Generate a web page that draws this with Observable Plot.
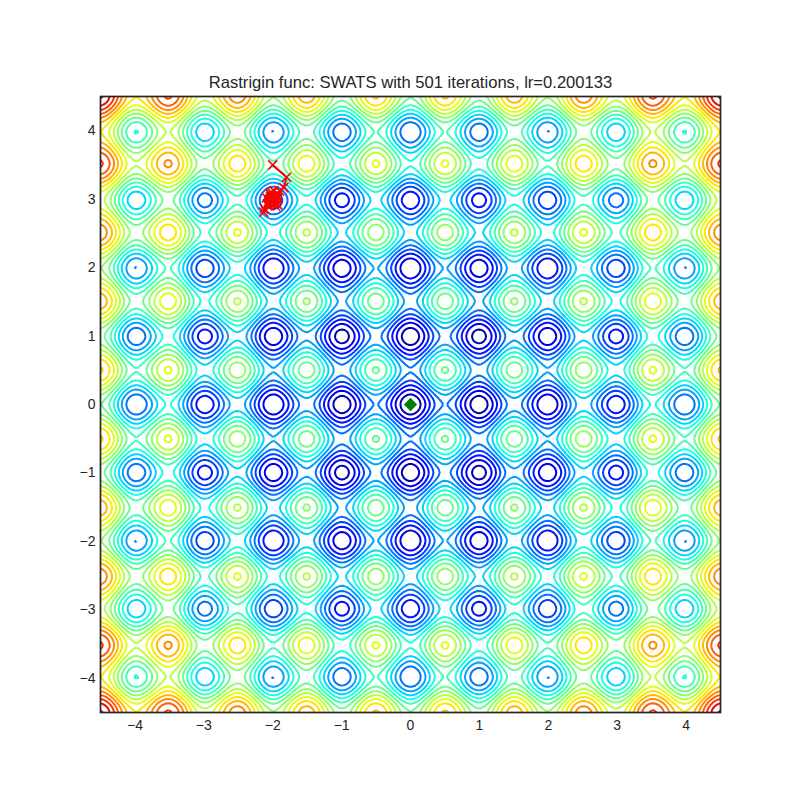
<!DOCTYPE html>
<html>
<head>
<meta charset="utf-8">
<script src="https://cdn.jsdelivr.net/npm/d3@7"></script>
<script src="https://cdn.jsdelivr.net/npm/@observablehq/plot@0.6"></script>
<style>html,body{margin:0;padding:0;background:#fff}</style>
</head>
<body>
<div id="chart"></div>
<script>
const titleText = "Rastrigin func: SWATS with 501 iterations, lr=0.200133";
const tickValues = [-4, -3, -2, -1, 0, 1, 2, 3, 4];
const contourLevels = [4,8,12,16,20,24,28,32,36,40,44,48,52,56,60,64,68,72,76,80];
const colorMax = 84;
const gridSamples = 250;
const jetStops = [0, 0.11, 0.125, 0.34, 0.35, 0.375, 0.64, 0.65, 0.66, 0.89, 0.91, 1];
const jetColors = ["rgb(0,0,127)","rgb(0,0,255)","rgb(0,0,255)","rgb(0,219,255)","rgb(0,230,247)","rgb(21,255,226)","rgb(239,255,8)","rgb(247,246,0)","rgb(255,236,0)","rgb(255,19,0)","rgb(232,0,0)","rgb(127,0,0)"];
// Path: start, approach, then the cluster around the local minimum.
const pathX = [-2.00,-1.80,-1.84,-1.90,-1.93,-1.98,-2.08,-2.12,-2.13,-2.05,-1.93,-1.92,-2.02,-2.09,-2.06,-1.96,-1.95,-2.04,-2.06,-1.98,-1.94,-2.03,-2.05,-1.97,-2.00,-2.02,-1.98,-2.01,-2.04,-1.97,-1.99,-2.02,-2.00];
const pathY = [ 3.50, 3.32, 3.17, 3.12, 3.05, 3.12, 2.93, 2.86, 2.81, 2.90, 2.92, 3.02, 3.10, 3.02, 2.92, 2.90, 3.06, 3.08, 2.96, 2.93, 3.00, 3.04, 2.97, 2.95, 3.00, 3.03, 3.02, 2.97, 3.00, 2.98, 3.04, 2.96, 3.00];
const optimumX = [0];
const optimumY = [0];
const lastX = [-1.99];
const lastY = [2.98];
// The contoured surface is the function named in the title, on the axes' domain.
const rastrigin = (x, y) => 20 + x*x - 10*Math.cos(2*Math.PI*x) + y*y - 10*Math.cos(2*Math.PI*y);
const path = pathX.map((x, i) => ({x, y: pathY[i]}));
const optimum = optimumX.map((x, i) => ({x, y: optimumY[i]}));
const last = lastX.map((x, i) => ({x, y: lastY[i]}));
const tickFmt = d3.format("d");
const halfCell = 4.5 / (gridSamples - 1);
const plot = Plot.plot({
  width: 800, height: 800,
  marginLeft: 100, marginRight: 80, marginTop: 96, marginBottom: 88,
  style: {background: "#fff", fontFamily: "'Liberation Sans', Arial, sans-serif", fontSize: "14px", color: "#262626"},
  x: {domain: [-4.5, 4.5], label: null},
  y: {domain: [-4.5, 4.5], label: null},
  color: {type: "linear", domain: jetStops.map(t => t * colorMax), range: jetColors},
  marks: [
    Plot.contour({
      value: rastrigin,
      x1: -4.5 - halfCell, x2: 4.5 + halfCell, y1: -4.5 - halfCell, y2: 4.5 + halfCell,
      width: gridSamples, height: gridSamples,
      thresholds: contourLevels, stroke: "value", fill: "none", strokeWidth: 2, strokeLinejoin: "round", clip: "frame"
    }),
    Plot.axisX(tickValues, {tickSize: 0, tickPadding: 8, fontSize: 14, fill: "#262626", label: null, tickFormat: tickFmt}),
    Plot.axisY(tickValues, {tickSize: 0, tickPadding: 5, fontSize: 14, fill: "#262626", label: null, tickFormat: tickFmt}),
    Plot.line(path, {x: "x", y: "y", stroke: "#ff0000", strokeWidth: 2}),
    Plot.dot(path, {x: "x", y: "y", symbol: "times", r: 4.2, stroke: "#ff0000", strokeWidth: 1.6}),
    Plot.dot(last, {x: "x", y: "y", symbol: "square", rotate: 45, r: 5.3, fill: "#ff0000", stroke: "none"}),
    Plot.dot(optimum, {x: "x", y: "y", symbol: "square", rotate: 45, r: 5.3, fill: "#008000", stroke: "none"}),
    Plot.frame({stroke: "#262626", strokeWidth: 1.7}),
    Plot.text([titleText], {frameAnchor: "top", dy: -14, fontSize: 16.6, fill: "#262626", lineAnchor: "middle"})
  ]
});
document.getElementById("chart").appendChild(plot);
</script>
</body>
</html>
